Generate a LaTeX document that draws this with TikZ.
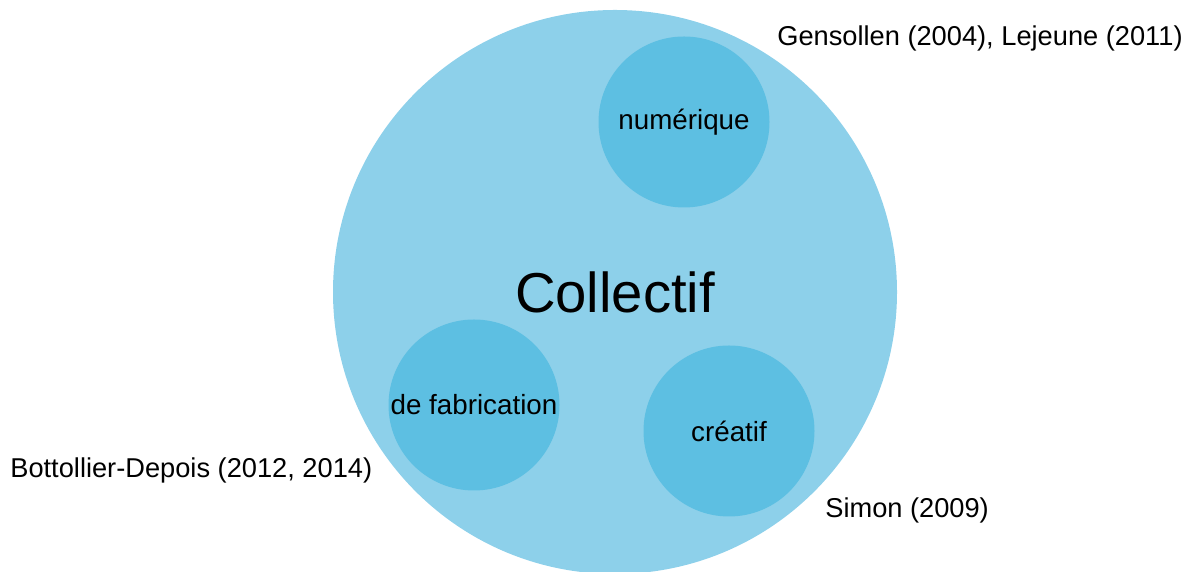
\documentclass[tikz,border=0pt]{standalone}
\usepackage{fontspec}
\setmainfont{Liberation Sans}
\usepackage{tikz}
\definecolor{Fond}{RGB}{141,208,234}
\definecolor{Bulle}{RGB}{93,191,226}
\newcommand{\auteurs}[3]{\node[anchor=#3, inner sep=0pt, font=\fontsize{15.5}{18}\selectfont] at #1 {#2};}
\tikzset{
  grand/.style={circle, fill=Fond, minimum size=11.28cm, inner sep=0pt, font=\fontsize{32}{38}\selectfont},
  bulle/.style={circle, fill=Bulle, minimum size=3.42cm, inner sep=0pt, label={[font=\fontsize{15.8}{19}\selectfont]center:#1}}
}

\begin{document}
\begin{tikzpicture}
\useasboundingbox (0,0) rectangle (23.9,11.44);
\node[grand] (collectif) at (12.3,5.6) {Collectif};
    \node[bulle=numérique] (numerique) at (13.68,9.0) {};
    \node[bulle=de fabrication] (fabrication) at (9.48,3.34) {};
    \node[bulle=créatif] (creatif) at (14.58,2.82) {};
\auteurs{(23.66,10.68)}{Gensollen (2004), Lejeune (2011)}{east}\auteurs{(0.2,2.04)}{Bottollier-Depois (2012, 2014)}{west}\auteurs{(16.5,1.24)}{Simon (2009)}{west}
\end{tikzpicture}
\end{document}
